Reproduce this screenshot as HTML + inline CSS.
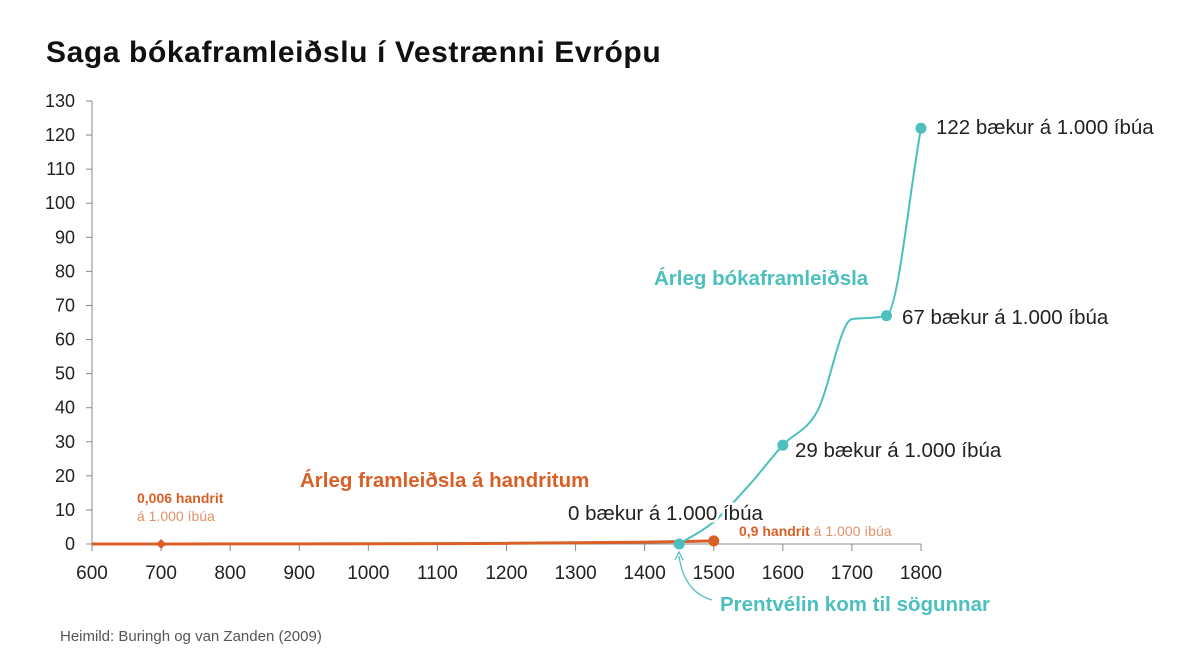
<!DOCTYPE html>
<html><head><meta charset="utf-8"><style>
body{margin:0;background:#fff;}
svg{display:block;font-family:"Liberation Sans",sans-serif;}
</style></head><body>
<svg width="1200" height="671" viewBox="0 0 1200 671">
<text x="46" y="62" font-size="30" font-weight="bold" fill="#111" letter-spacing="0.6">Saga bókaframleiðslu í Vestrænni Evrópu</text>
<g id="axes"></g>
<g id="series"></g>
<g id="labels"></g>
<text x="60" y="641" font-size="15" fill="#555">Heimild: Buringh og van Zanden (2009)</text>
</svg>
<script>
const yTicks=[0,10,20,30,40,50,60,70,80,90,100,110,120,130];
const xTicks=[600,700,800,900,1000,1100,1200,1300,1400,1500,1600,1700,1800];
const printYears=[1450,1500,1550,1600,1650,1700,1750,1800];
const printValues=[0,6.5,17,29,39,66,67,122];
const printMarkYears=[1450,1600,1750,1800];
const printMarkValues=[0,29,67,122];
const manuYears=[600,700,800,900,1000,1100,1200,1300,1400,1450,1500];
const manuValues=[0.006,0.006,0.02,0.05,0.08,0.12,0.2,0.35,0.55,0.7,0.9];
const NS="http://www.w3.org/2000/svg";
const X=v=>92+(v-600)*(921-92)/1200;
const Y=v=>544-v*(544-101)/130;
const TEAL="#4cbfbf",ORANGE="#d95f26";
function mk(tag,attrs,parent,txt){const e=document.createElementNS(NS,tag);for(const k in attrs)e.setAttribute(k,attrs[k]);if(txt!==undefined)e.textContent=txt;parent.appendChild(e);return e;}
const axes=document.getElementById('axes'),series=document.getElementById('series'),labels=document.getElementById('labels');
let el=mk('line',{x1:92,y1:Y(0),x2:92,y2:Y(130),stroke:'#888','stroke-width':1},axes);


el=mk('line',{x1:92,y1:Y(0),x2:921,y2:Y(0),stroke:'#888','stroke-width':1},axes);


yTicks.forEach(t=>{
  mk('line',{x1:86,x2:92,y1:Y(t),y2:Y(t),stroke:'#888'},axes);
  el=mk('text',{x:75,y:Y(t)+6,'font-size':18,'text-anchor':'end',fill:'#222'},axes,t);
  
  
});
xTicks.forEach(t=>{
  mk('line',{x1:X(t),x2:X(t),y1:Y(0),y2:Y(0)+7,stroke:'#888'},axes);
  el=mk('text',{x:X(t),y:579,'font-size':19,'text-anchor':'middle',fill:'#222'},axes,t);
  
  
});
// monotone cubic (Fritsch-Carlson)
function smooth(xs,ys){const p=xs.map((x,i)=>[X(x),Y(ys[i])]);const n=p.length;
 const d=[],m=[];for(let i=0;i<n-1;i++)d.push((p[i+1][1]-p[i][1])/(p[i+1][0]-p[i][0]));
 m[0]=d[0];m[n-1]=d[n-2];
 for(let i=1;i<n-1;i++){m[i]=(d[i-1]*d[i]<=0)?0:(d[i-1]+d[i])/2;}
 for(let i=0;i<n-1;i++){if(d[i]===0){m[i]=0;m[i+1]=0;continue;}const a=m[i]/d[i],b=m[i+1]/d[i],s=a*a+b*b;if(s>9){const t=3/Math.sqrt(s);m[i]=t*a*d[i];m[i+1]=t*b*d[i];}}
 let path=`M${p[0][0]},${p[0][1]}`;
 for(let i=0;i<n-1;i++){const h=(p[i+1][0]-p[i][0])/3;
  path+=` C${p[i][0]+h},${p[i][1]+m[i]*h} ${p[i+1][0]-h},${p[i+1][1]-m[i+1]*h} ${p[i+1][0]},${p[i+1][1]}`;}
 return path;}
el=mk('path',{d:smooth(manuYears,manuValues),fill:'none',stroke:ORANGE,'stroke-width':3},series);


el=mk('path',{d:smooth(printYears,printValues),fill:'none',stroke:TEAL,'stroke-width':2},series);


const dx=X(700),dy=Y(manuValues[1]);
el=mk('path',{d:`M${dx},${dy-5} L${dx+5},${dy} L${dx},${dy+5} L${dx-5},${dy}Z`,fill:ORANGE},series);


el=mk('circle',{cx:X(1500),cy:Y(manuValues[manuValues.length-1]),r:5.5,fill:ORANGE},series);


printMarkYears.forEach((yr,i)=>{
  el=mk('circle',{cx:X(yr),cy:Y(printMarkValues[i]),r:5.5,fill:TEAL},series);
  
  
});
function lab(x,y,txt,size,color,weight,name,anchor){
  const e=mk('text',{x:x,y:y,'font-size':size,fill:color,'font-weight':weight||'normal','text-anchor':anchor||'start',stroke:'#fff','stroke-width':5,'paint-order':'stroke'},labels,txt);
  
  return e;}
lab(936,134,'122 bækur á 1.000 íbúa',20.5,'#222','normal','label-1800');
lab(902,324,'67 bækur á 1.000 íbúa',20.5,'#222','normal','label-1750');
lab(795,457,'29 bækur á 1.000 íbúa',20.5,'#222','normal','label-1600');
lab(568,520,'0 bækur á 1.000 íbúa',20.5,'#222','normal','label-1450');
lab(654,285,'Árleg bókaframleiðsla',20.5,TEAL,'bold','printed-series-label');
lab(300,487,'Árleg framleiðsla á handritum',20.5,ORANGE,'bold','manuscript-series-label');
lab(137,503,'0,006 handrit',14,ORANGE,'bold','label-700-a');
lab(137,521,'á 1.000 íbúa',14,'#e0916a','normal','label-700-b');
el=mk('text',{x:739,y:536,'font-size':14,fill:ORANGE,'font-weight':'bold'},labels);


mk('tspan',{},el,'0,9 handrit');mk('tspan',{'font-weight':'normal',fill:'#e0916a'},el,' á 1.000 íbúa');
lab(720,611,'Prentvélin kom til sögunnar',20.5,TEAL,'bold','printing-press-label');
el=mk('path',{d:`M712,600 Q684,592 679,556`,fill:'none',stroke:TEAL,'stroke-width':1.2},labels);


mk('path',{d:'M675,560 L679,552 L683,560',fill:'none',stroke:TEAL,'stroke-width':1.2},labels);
</script>
</body></html>
